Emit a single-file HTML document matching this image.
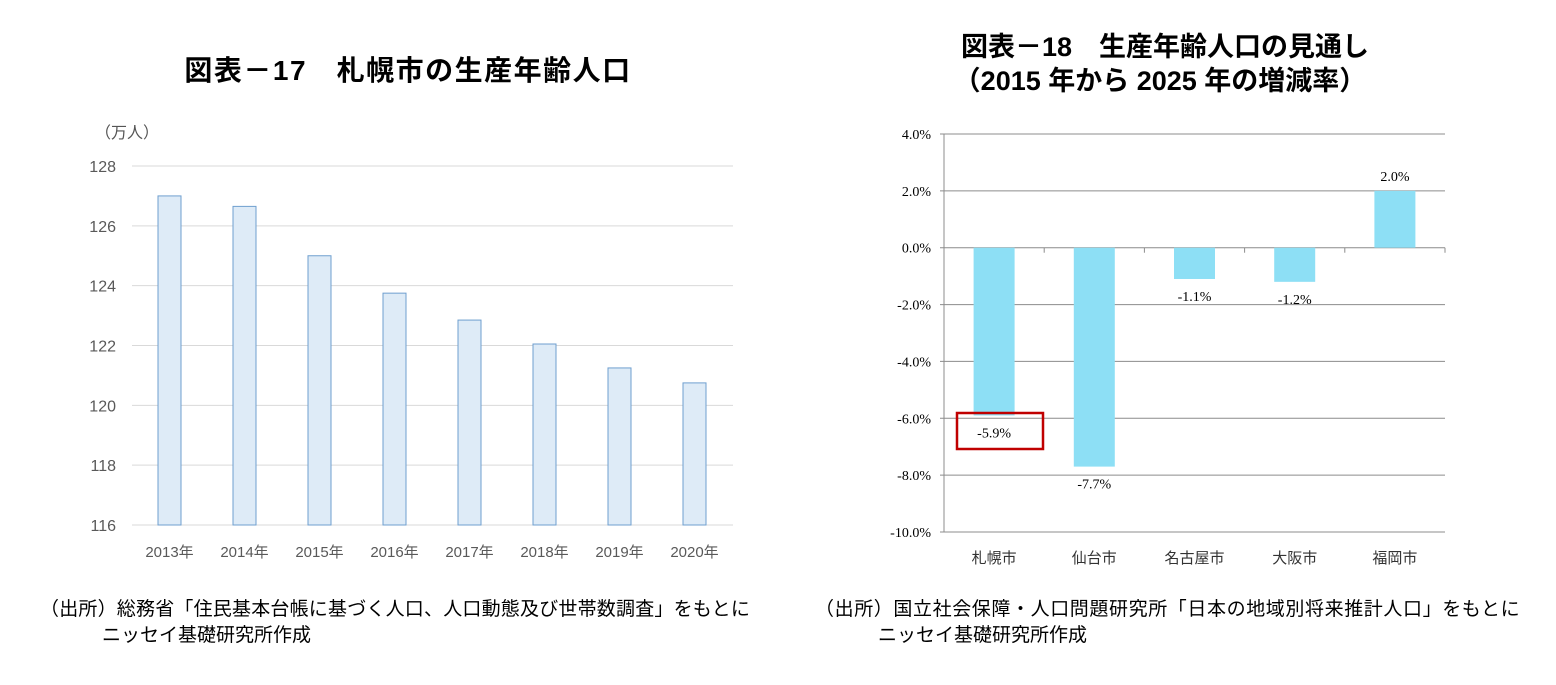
<!DOCTYPE html>
<html><head><meta charset="utf-8"><style>
body{margin:0;background:#fff;width:1556px;height:685px;overflow:hidden;font-family:"Liberation Sans","Noto Sans CJK JP",sans-serif}
svg{position:absolute;left:0;top:0}
</style></head><body>
<svg width="1556" height="685">
<text x="408" y="80" text-anchor="middle" font-size="28" font-weight="bold" letter-spacing="1.5" fill="#000">図表－17　札幌市の生産年齢人口</text>
<text x="95" y="138" font-size="16" fill="#555">（万人）</text>
<g id="L"></g>
<text x="1165" y="56" text-anchor="middle" font-size="27" font-weight="bold">図表－18　生産年齢人口の見通し</text>
<text x="1160" y="90" text-anchor="middle" font-size="27" font-weight="bold">（2015 年から 2025 年の増減率）</text>
<g id="R"></g>
<rect x="957" y="413" width="86" height="36" fill="none" stroke="#c00000" stroke-width="2.5"/>
<text x="40" y="615" font-size="19" letter-spacing="0.2">（出所）総務省「住民基本台帳に基づく人口、人口動態及び世帯数調査」をもとに</text>
<text x="102" y="641" font-size="19">ニッセイ基礎研究所作成</text>
<text x="815" y="615" font-size="19" letter-spacing="0.6">（出所）国立社会保障・人口問題研究所「日本の地域別将来推計人口」をもとに</text>
<text x="878" y="641" font-size="19">ニッセイ基礎研究所作成</text>
</svg>
<script>
const leftCategories=["2013年","2014年","2015年","2016年","2017年","2018年","2019年","2020年"];
const leftValues=[127.0,126.65,125.0,123.75,122.85,122.05,121.25,120.75];
const leftTicks=[116,118,120,122,124,126,128];
const rightCategories=["札幌市","仙台市","名古屋市","大阪市","福岡市"];
const rightValues=[-5.9,-7.7,-1.1,-1.2,2.0];
const rightTicks=[-10,-8,-6,-4,-2,0,2,4];
const NS="http://www.w3.org/2000/svg";
function mk(p,t,a){const e=document.createElementNS(NS,t);for(const k in a)e.setAttribute(k,a[k]);p.appendChild(e);return e;}
const L=document.getElementById('L');
const ly=v=>525-(v-116)*(525-166)/12;
const lx0=132,lband=75;
leftTicks.forEach(t=>{
 const g=mk(L,'line',{x1:lx0,x2:733,y1:ly(t),y2:ly(t),stroke:'#d9d9d9','stroke-width':1});
 
 
 const tx=mk(L,'text',{x:116,y:ly(t)+6,'text-anchor':'end','font-size':16,fill:'#595959'});tx.textContent=t;
 
 
});
leftCategories.forEach((c,i)=>{
 const cx=lx0+lband*(i+0.5);
 const r=mk(L,'rect',{x:cx-11.5,y:ly(leftValues[i]),width:23,height:ly(116)-ly(leftValues[i]),fill:'#deebf7',stroke:'#6f9fcf','stroke-width':1});
 
 
 const tx=mk(L,'text',{x:cx,y:557,'text-anchor':'middle','font-size':15,fill:'#595959'});tx.textContent=c;
 
 
});
const R=document.getElementById('R');
const ry=v=>134+(4-v)*(532-134)/14;
const rx0=944,rx1=1445,rband=(rx1-rx0)/5;
rightTicks.forEach(t=>{
 const g=mk(R,'line',{x1:rx0-4,x2:rx1,y1:ry(t),y2:ry(t),stroke:'#8c8c8c','stroke-width':1});
 
 
 const tx=mk(R,'text',{x:931,y:ry(t)+5,'text-anchor':'end','font-size':14,'font-family':'Liberation Serif, serif'});tx.textContent=t.toFixed(1)+'%';
 
 
});
const ax=mk(R,'line',{x1:rx0,x2:rx0,y1:ry(4),y2:ry(-10),stroke:'#8c8c8c'});


rightCategories.forEach((c,i)=>{
 const cx=rx0+rband*(i+0.5),v=rightValues[i];
 const y0=Math.min(ry(0),ry(v)),h=Math.abs(ry(v)-ry(0));
 const r=mk(R,'rect',{x:cx-20.5,y:y0,width:41,height:h,fill:'#8ddff5'});
 
 
 const tk=mk(R,'line',{x1:rx0+rband*(i+1),x2:rx0+rband*(i+1),y1:ry(0),y2:ry(0)+5,stroke:'#8c8c8c'});
 
 
 const ly2=v>=0?ry(v)-10:ry(v)+22;
 const lb=mk(R,'text',{x:cx,y:ly2,'text-anchor':'middle','font-size':14,'font-family':'Liberation Serif, serif'});lb.textContent=v.toFixed(1)+'%';
 
 
 const tx=mk(R,'text',{x:cx,y:563,'text-anchor':'middle','font-size':15,fill:'#333'});tx.textContent=c;
 
 
});
</script>
</body></html>
